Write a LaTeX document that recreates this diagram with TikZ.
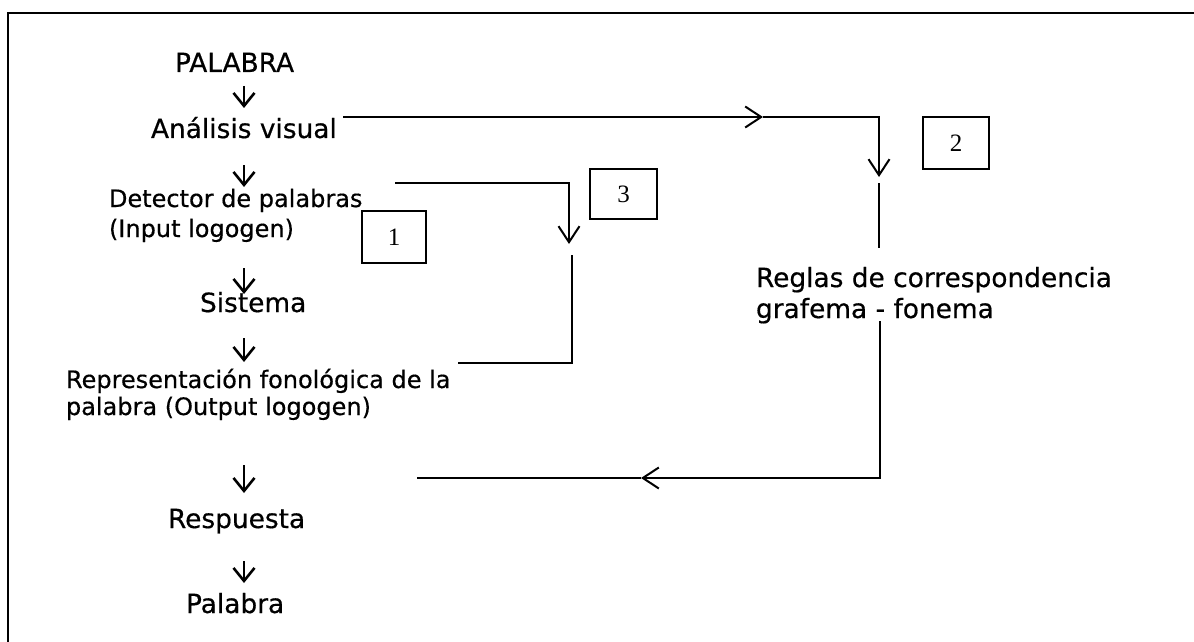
\documentclass[tikz,border=0pt]{standalone}
\usepackage{fontspec}
\setmainfont{DejaVu Sans}[FakeBold=0.5]
\newfontfamily\numfont{Liberation Serif}
\usetikzlibrary{arrows.meta}
\begin{document}
\begin{tikzpicture}[x=0.5pt,y=-0.5pt,line width=1pt,
  big/.style={font=\fontsize{13.2}{16}\selectfont,inner sep=0pt,anchor=base west},
  small/.style={font=\fontsize{12}{14}\selectfont,inner sep=0pt,anchor=base west},
  numbox/.style={draw,line width=1pt,inner sep=0pt,font=\numfont\fontsize{12.5}{14}\selectfont},
  tipA/.style={-{Straight Barb[length=8pt,width=10.5pt]}},
  dn/.style={line width=1.3pt,-{Straight Barb[length=6.5pt,width=10.5pt]}}]
\fill[white] (0,0) rectangle (1194,642);
\path[use as bounding box] (0,0) rectangle (1194,642);
\draw (8,642) -- (8,13) -- (1194,13);

% texts
\node[big] (pal) at (174,72) {PALABRA};
\node[big] (anal) at (150,138) {Análisis visual};
\node[small] (det1) at (108,207) {Detector de palabras};
\node[small] (det2) at (108,237) {(Input logogen)};
\node[big] (sis) at (199,312) {Sistema};
\node[small] (rep1) at (65,388) {Representación fonológica de la};
\node[small] (rep2) at (65,415) {palabra (Output logogen)};
\node[big] (resp) at (167,528) {Respuesta};
\node[big] (fin) at (185,613) {Palabra};
\node[big] (reg1) at (755,287) {Reglas de correspondencia};
\node[big] (reg2) at (755,318) {grafema - fonema};

% numbered boxes
\node[numbox,minimum width=32pt,minimum height=26pt] (b1) at (394,237) {1};
\node[numbox,minimum width=33pt,minimum height=26pt] (b2) at (956,143) {2};
\node[numbox,minimum width=33.5pt,minimum height=25pt] (b3) at (623.5,194) {3};

% vertical flow arrows
\foreach \n/\a/\b in {1/86/108,2/165/187,3/268/294,4/338/362,5/465/493,6/561/583}{
  \coordinate (d\n s) at (244,\a);
  \coordinate (d\n e) at (244,\b);
  \draw[dn] (d\n s) -- (d\n e);
}

% route 2: from Análisis visual to Reglas
\coordinate (r2a) at (343,117);
\coordinate (r2m) at (763,117);
\coordinate (r2c) at (879,117);
\coordinate (r2t) at (879,177);
\coordinate (r2b) at (879,183);
\coordinate (r2e) at (879,248);
\draw[tipA] (r2a) -- (r2m);
\draw[tipA] (r2m) -- (r2c) -- (r2t);
\draw (r2b) -- (r2e);

% route 3: from Detector to Representación
\coordinate (r3a) at (395,183);
\coordinate (r3c) at (569,183);
\coordinate (r3t) at (569,244);
\coordinate (r3b) at (572,255);
\coordinate (r3d) at (572,363);
\coordinate (r3e) at (458,363);
\draw[tipA] (r3a) -- (r3c) -- (r3t);
\draw (r3b) -- (r3d) -- (r3e);

% route back: from Reglas to Respuesta
\coordinate (rba) at (880,321);
\coordinate (rbc) at (880,478);
\coordinate (rbm) at (641,478);
\coordinate (rbe) at (417,478);
\draw[tipA] (rba) -- (rbc) -- (rbm);
\draw (rbm) -- (rbe);
\end{tikzpicture}
\end{document}
